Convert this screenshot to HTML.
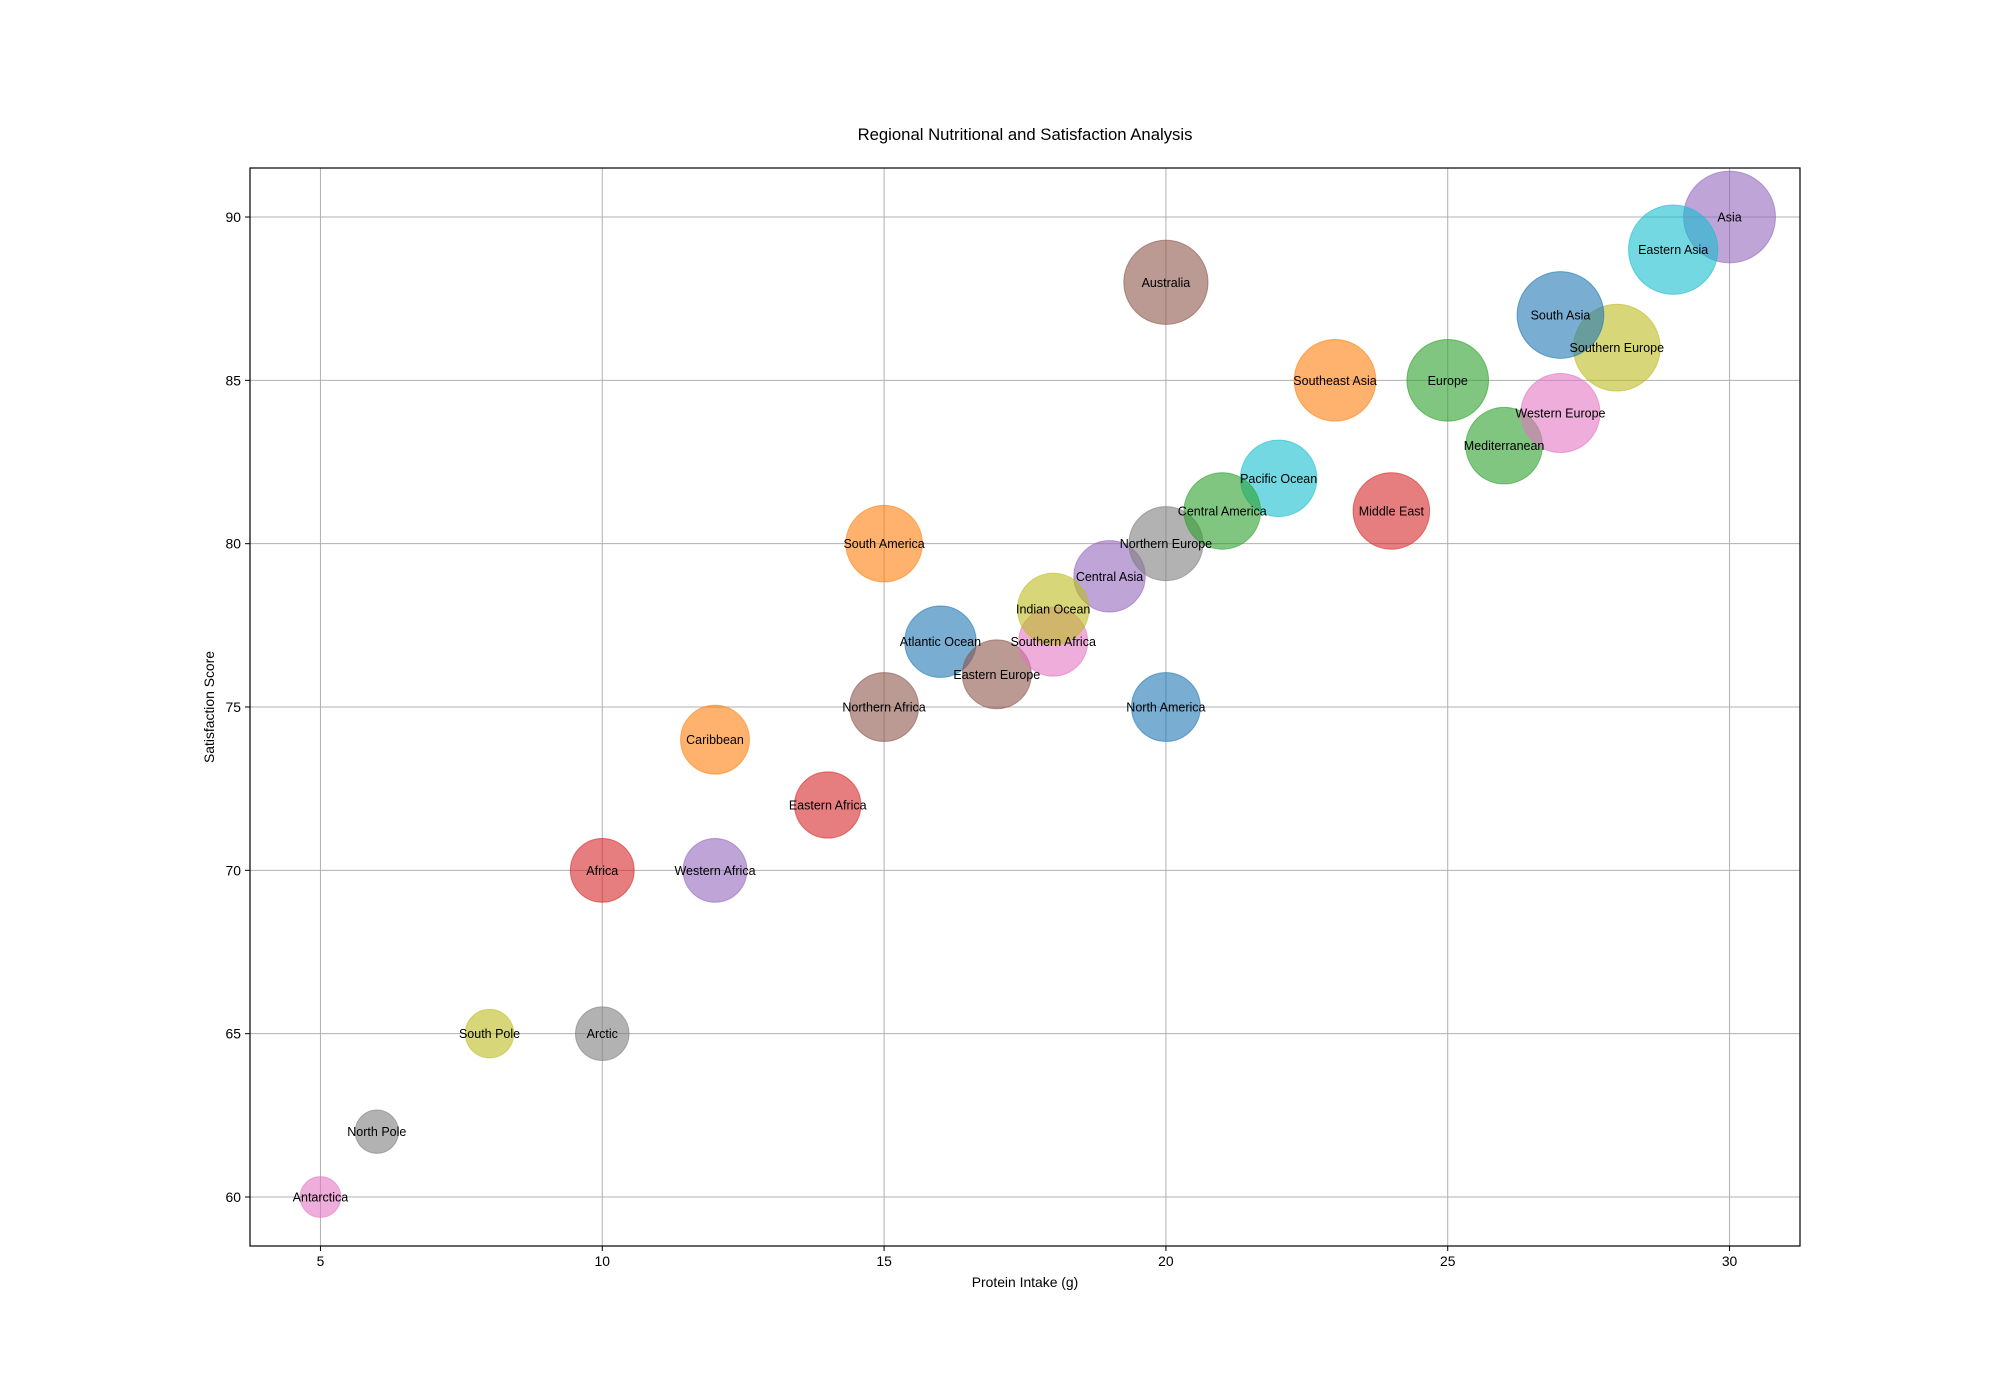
<!DOCTYPE html>
<html><head><meta charset="utf-8"><style>
body{margin:0;background:#fff;}
svg{display:block;font-family:"Liberation Sans","DejaVu Sans",sans-serif;}
</style></head><body>
<svg id="chart" width="2000" height="1400" viewBox="0 0 2000 1400" xmlns="http://www.w3.org/2000/svg">
<rect width="2000" height="1400" fill="#fff"/>
<g id="grid"></g>
<g id="bubbles"></g>
<g id="labels"></g>
<rect x="250" y="168" width="1550" height="1078" fill="none" stroke="#000" stroke-width="1.2"/>
<g id="ticks"></g>
<text x="1025" y="140" text-anchor="middle" font-size="16.7">Regional Nutritional and Satisfaction Analysis</text>
<text x="1025" y="1287" text-anchor="middle" font-size="13.9">Protein Intake (g)</text>
<text x="0" y="0" transform="translate(214,707) rotate(-90)" text-anchor="middle" font-size="13.9">Satisfaction Score</text>
</svg>
<script>
const regions=["North America","South America","Europe","Africa","Asia","Australia","Antarctica","Arctic","South Pole","Pacific Ocean","Atlantic Ocean","Southeast Asia","Mediterranean","Middle East","Central Asia","Eastern Europe","Western Europe","Northern Europe","Southern Europe","Eastern Asia","South Asia","Caribbean","Central America","Eastern Africa","Western Africa","Northern Africa","Southern Africa","North Pole","Indian Ocean"];
const protein=[20,15,25,10,30,20,5,10,8,22,16,23,26,24,19,17,27,20,28,29,27,12,21,14,12,15,18,6,18];
const satisfaction=[75,80,85,70,90,88,60,65,65,82,77,85,83,81,79,76,84,80,86,89,87,74,81,72,70,75,77,62,78];
const sizes=[2459,3036,3454,2108,4372,3673,864,1488,1218,3036,2644,3454,3036,3036,2644,2459,3242,2837,3899,4132,3899,2459,3036,2280,2108,2459,2459,975,2644];
const xTicks=[5,10,15,20,25,30];
const yTicks=[60,65,70,75,80,85,90];
const colors=["#1f77b4","#ff7f0e","#2ca02c","#d62728","#9467bd","#8c564b","#e377c2","#7f7f7f","#bcbd22","#17becf"];
const L=250,R=1800,T=168,B=1246,x0=3.75,x1=31.25,y0=58.5,y1=91.5;
const sx=v=>L+(v-x0)/(x1-x0)*(R-L);
const sy=v=>B-(v-y0)/(y1-y0)*(B-T);
const NS="http://www.w3.org/2000/svg";
function mk(tag,attrs,parent){const e=document.createElementNS(NS,tag);for(const k in attrs)e.setAttribute(k,attrs[k]);document.getElementById(parent).appendChild(e);return e;}
xTicks.forEach(t=>{
  const g=mk("line",{x1:sx(t),x2:sx(t),y1:T,y2:B,stroke:"#b0b0b0","stroke-width":1},"grid");
  
  
  const tk=mk("line",{x1:sx(t),x2:sx(t),y1:B,y2:B+5,stroke:"#000","stroke-width":1},"ticks");
  
  
  const tl=mk("text",{x:sx(t),y:B+20,"text-anchor":"middle","font-size":13.9},"ticks");
  tl.textContent=t;
  
  
});
yTicks.forEach(t=>{
  const g=mk("line",{x1:L,x2:R,y1:sy(t),y2:sy(t),stroke:"#b0b0b0","stroke-width":1},"grid");
  
  
  const tk=mk("line",{x1:L-5,x2:L,y1:sy(t),y2:sy(t),stroke:"#000","stroke-width":1},"ticks");
  
  
  const tl=mk("text",{x:L-9,y:sy(t)+5,"text-anchor":"end","font-size":13.9},"ticks");
  tl.textContent=t;
  
  
});
regions.forEach((r,i)=>{
  const rad=Math.sqrt(sizes[i])/2*100/72;
  const c=colors[i%10];
  const b=mk("circle",{cx:sx(protein[i]),cy:sy(satisfaction[i]),r:rad,fill:c,"fill-opacity":0.6,stroke:c,"stroke-opacity":0.6,"stroke-width":1},"bubbles");
  
  
  const t=mk("text",{x:sx(protein[i]),y:sy(satisfaction[i])+4.5,"text-anchor":"middle","font-size":12.5},"labels");
  t.textContent=r;
  
  
});
</script>
</body></html>
